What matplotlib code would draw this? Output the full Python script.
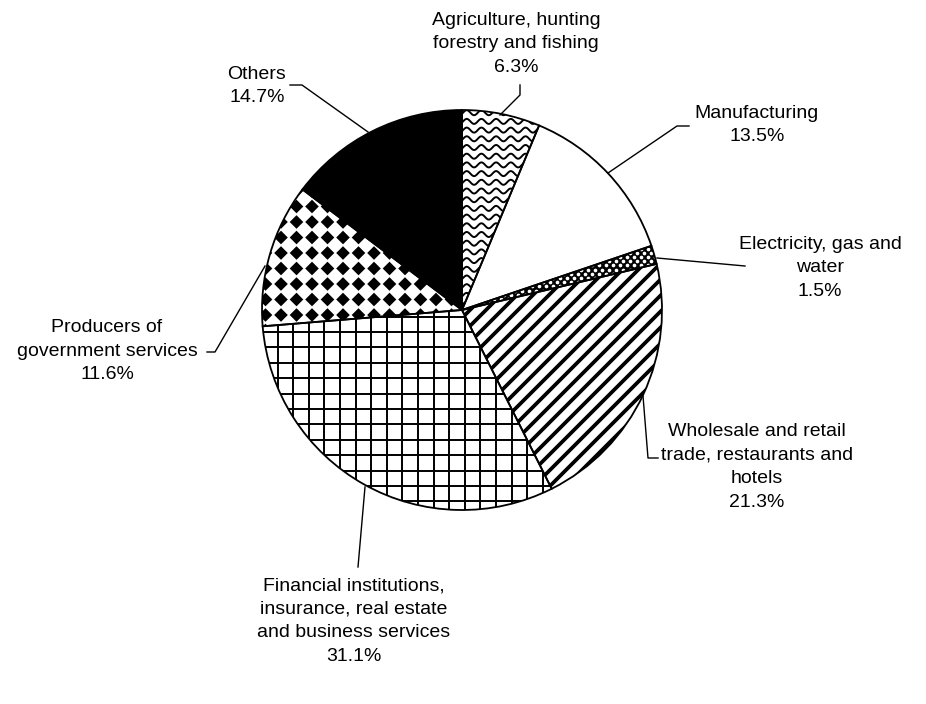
import matplotlib
matplotlib.use("Agg")
import matplotlib.pyplot as plt
import numpy as np
from matplotlib.collections import LineCollection, PolyCollection

# ---------------- data ----------------
categories = [
    "Agriculture, hunting\nforestry and fishing",
    "Manufacturing",
    "Electricity, gas and\nwater",
    "Wholesale and retail\ntrade, restaurants and\nhotels",
    "Financial institutions,\ninsurance, real estate\nand business services",
    "Producers of\ngovernment services",
    "Others",
]
shares = [6.3, 13.5, 1.5, 21.3, 31.1, 11.6, 14.7]
fills = ["white", "white", "black", "white", "white", "white", "black"]

# label block centres (pixel coords) and leader lines (pixel coords)
label_pos = [(516, 44), (757, 125), (820, 268), (757, 467), (354, 621), (107, 351), (257, 86)]
leaders = [
    [(520, 85), (520, 95), (500, 115)],
    [(689, 126), (677, 126), (608, 173)],
    [(657, 258), (745, 266)],
    [(643, 396), (648, 458), (658, 458)],
    [(365, 487), (358, 567)],
    [(207, 352), (215, 352), (265, 266)],
    [(290, 85), (302, 85), (368, 132)],
]

W, H = 926, 704
CX, CY, R = 462, 310, 200


def P(x, y):
    return (x, H - y)


fig = plt.figure(figsize=(W / 100, H / 100), dpi=100)
ax = fig.add_axes([0, 0, 1, 1])

wedges, _ = ax.pie(shares, startangle=90, counterclock=False, center=P(CX, CY), radius=R,
                   colors=fills, wedgeprops=dict(linewidth=0, edgecolor="none", zorder=1))

# ---------- patterns ----------
# Agriculture: wavy lines
segs = []
xs = np.arange(452, 548, 0.5)
for yr in np.arange(104, 318, 8.7):
    ys = yr + 2.5 * np.sin(2 * np.pi * xs / 14.7)
    segs.append(np.column_stack([xs, H - ys]))
lc = LineCollection(segs, colors="black", linewidths=1.4, zorder=2)
ax.add_collection(lc)
lc.set_clip_path(wedges[0])

# Electricity: white dots on black
dots = []
for j, yy in enumerate(np.arange(236, 315, 4.2)):
    off = 3.5 if j % 2 else 0
    for xx in np.arange(455 + off, 672, 7):
        dots.append(P(xx, yy))
dots = np.array(dots)
sc = ax.scatter(dots[:, 0], dots[:, 1], s=7, c="white", linewidths=0, zorder=2)
sc.set_clip_path(wedges[2])

# Wholesale: thick diagonal stripes
segs = []
for c in np.arange(700, 1200, 16):
    x0, x1 = 440, 690
    segs.append([P(x0, c - x0), P(x1, c - x1)])
lc = LineCollection(segs, colors="black", linewidths=2.7, zorder=2)
ax.add_collection(lc)
lc.set_clip_path(wedges[3])

# Financial: square grid
segs = []
for xx in np.arange(262 - 15.6 * 2, 680, 15.6):
    segs.append([P(xx, 290), P(xx, 520)])
for yy in np.arange(332 - 15.4 * 3, 520, 15.4):
    segs.append([P(250, yy), P(680, yy)])
lc = LineCollection(segs, colors="black", linewidths=1.4, zorder=2)
ax.add_collection(lc)
lc.set_clip_path(wedges[4])

# Producers: black diamonds (rotated checkerboard)
polys = []
a, hd = 15.5, 6.8
for xx in np.arange(250, 480, a):
    for yy in np.arange(160, 350, a):
        polys.append([P(xx - hd, yy), P(xx, yy - hd), P(xx + hd, yy), P(xx, yy + hd)])
pc = PolyCollection(polys, facecolors="black", edgecolors="none", zorder=2)
ax.add_collection(pc)
pc.set_clip_path(wedges[5])

# outlines on top
ax.pie(shares, startangle=90, counterclock=False, center=P(CX, CY), radius=R,
       wedgeprops=dict(fill=False, linewidth=1.3, edgecolor="black", zorder=3))

# ---------- labels ----------
for cat, v, (lx, ly), pts in zip(categories, shares, label_pos, leaders):
    ax.text(lx, H - ly, f"{cat}\n{v:.1f}%", ha="center", va="center", fontsize=14,
            family="Liberation Sans", linespacing=1.5, color="black", zorder=4)
    arr = np.array([P(x, y) for x, y in pts])
    ax.plot(arr[:, 0], arr[:, 1], color="black", lw=1.0, zorder=4)

ax.set_xlim(0, W)
ax.set_ylim(0, H)
ax.set_aspect("equal")
ax.axis("off")
fig.savefig("out.png", dpi=100, facecolor="white")
